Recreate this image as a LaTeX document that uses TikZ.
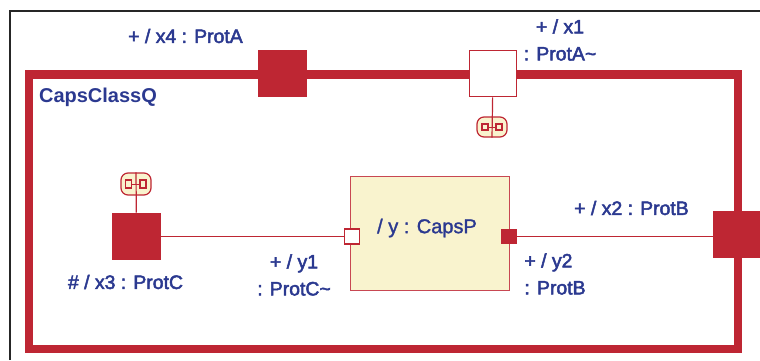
\documentclass[tikz,border=0pt]{standalone}
\usepackage{fontspec}
\setmainfont{Liberation Sans}
\newfontfamily\lblfont[FakeBold=2.5]{Liberation Sans}
\newfontfamily\partfont[FakeBold=1.5]{Liberation Sans}
\definecolor{capsred}{HTML}{BE2633}
\definecolor{capsfill}{HTML}{F9F3CE}
\definecolor{capsblue}{HTML}{2B3990}
\tikzset{
	bigport/.style={draw=capsred, line width=1.4pt, fill=capsred, minimum width=47.5pt, minimum height=46.5pt, inner sep=0pt},
	smallport/.style={draw=capsred, line width=1.4pt, fill=capsred, minimum size=14pt, inner sep=0pt},
	wire/.style={draw=capsred, line width=1.2pt},
	lbl/.style={text=capsblue, font=\lblfont\fontsize{19.4}{27}\selectfont, inner sep=0pt},
	symbolbox/.style={draw=capsred, line width=1.2pt, fill=capsfill, rounded corners=7pt, minimum width=30pt, minimum height=20pt, inner sep=0pt},
	symbolsq/.style={draw=capsred, line width=1.2pt, fill=capsfill, minimum size=6pt, inner sep=0pt}
}
\begin{document}
\begin{tikzpicture}[x=1pt, y=-1pt]
	\useasboundingbox (0, 0) rectangle (760, 360);

	% outer frame
	\draw[line width=2pt, black!85] (10, 360) -- (10, 11) -- (760, 11);

	% capsule
	\node[draw=capsred, line width=8.5pt, minimum width=709pt, minimum height=274.5pt, inner sep=0pt] (capsq) at (383.5, 211.75) {};
	\node[lbl, font=\normalfont\fontsize{20}{27}\selectfont\bfseries] (capsname) at (98, 97) {CapsClassQ};

	% part
	\node[draw=capsred!85, line width=1.4pt, fill=capsfill, minimum width=159pt, minimum height=114pt, inner sep=0pt] (part) at (430, 233.5) {};
	\node[lbl, font=\partfont\fontsize{20}{27}\selectfont] (partname) at (427, 228) {/ y : CapsP};

	% ports on the capsule
	\node[bigport] (x4) at (282.5, 73.5) {};
	\node[bigport, fill=white] (x1) at (493, 73.5) {};
	\node[bigport] (x3) at (136.5, 236.5) {};
	\node[bigport] (x2) at (737, 234.5) {};

	% ports on the part
	\node[smallport, fill=white, minimum size=15pt] (y1) at (352, 236.5) {};
	\node[smallport] (y2) at (509, 236.5) {};

	% connectors
	\draw[wire] (x3) -- (y1);
	\draw[wire] (y2) -- (y2 -| x2.west);

	% protocol symbols
	\node[symbolbox] (symx1) at (492, 127) {};
	\node[symbolsq] (symx1a) at (485, 127) {};
	\node[symbolsq] (symx1b) at (499, 127) {};
	\draw[wire] (x1) -- (symx1.south);
	\draw[wire, line width=0.8pt] (symx1a) -- (symx1b);

	\node[symbolbox, minimum height=22pt] (symx3) at (136, 184) {};
	\node[symbolsq, minimum height=8pt] (symx3a) at (128.5, 184) {};
	\node[symbolsq, minimum height=8pt] (symx3b) at (143, 184) {};
	\draw[wire] (x3) -- (symx3.north);
	\draw[wire, line width=0.8pt] (symx3a) -- (symx3b);

	% labels
	\node[lbl] (lx4) at (185.5, 36) {+ / x4 : ProtA};
	\node[lbl, align=center] (lx1) at (560, 40) {+ / x1\\: ProtA\char`\~};
	\node[lbl] (lx2) at (631.5, 208) {+ / x2 : ProtB};
	\node[lbl] (lx3) at (125.5, 282) {\# / x3 : ProtC};
	\node[lbl, align=center] (ly1) at (294, 275) {+ / y1\\: ProtC\char`\~};
	\node[lbl, align=left] (ly2) at (555, 274) {+ / y2\\: ProtB};
\end{tikzpicture}
\end{document}
